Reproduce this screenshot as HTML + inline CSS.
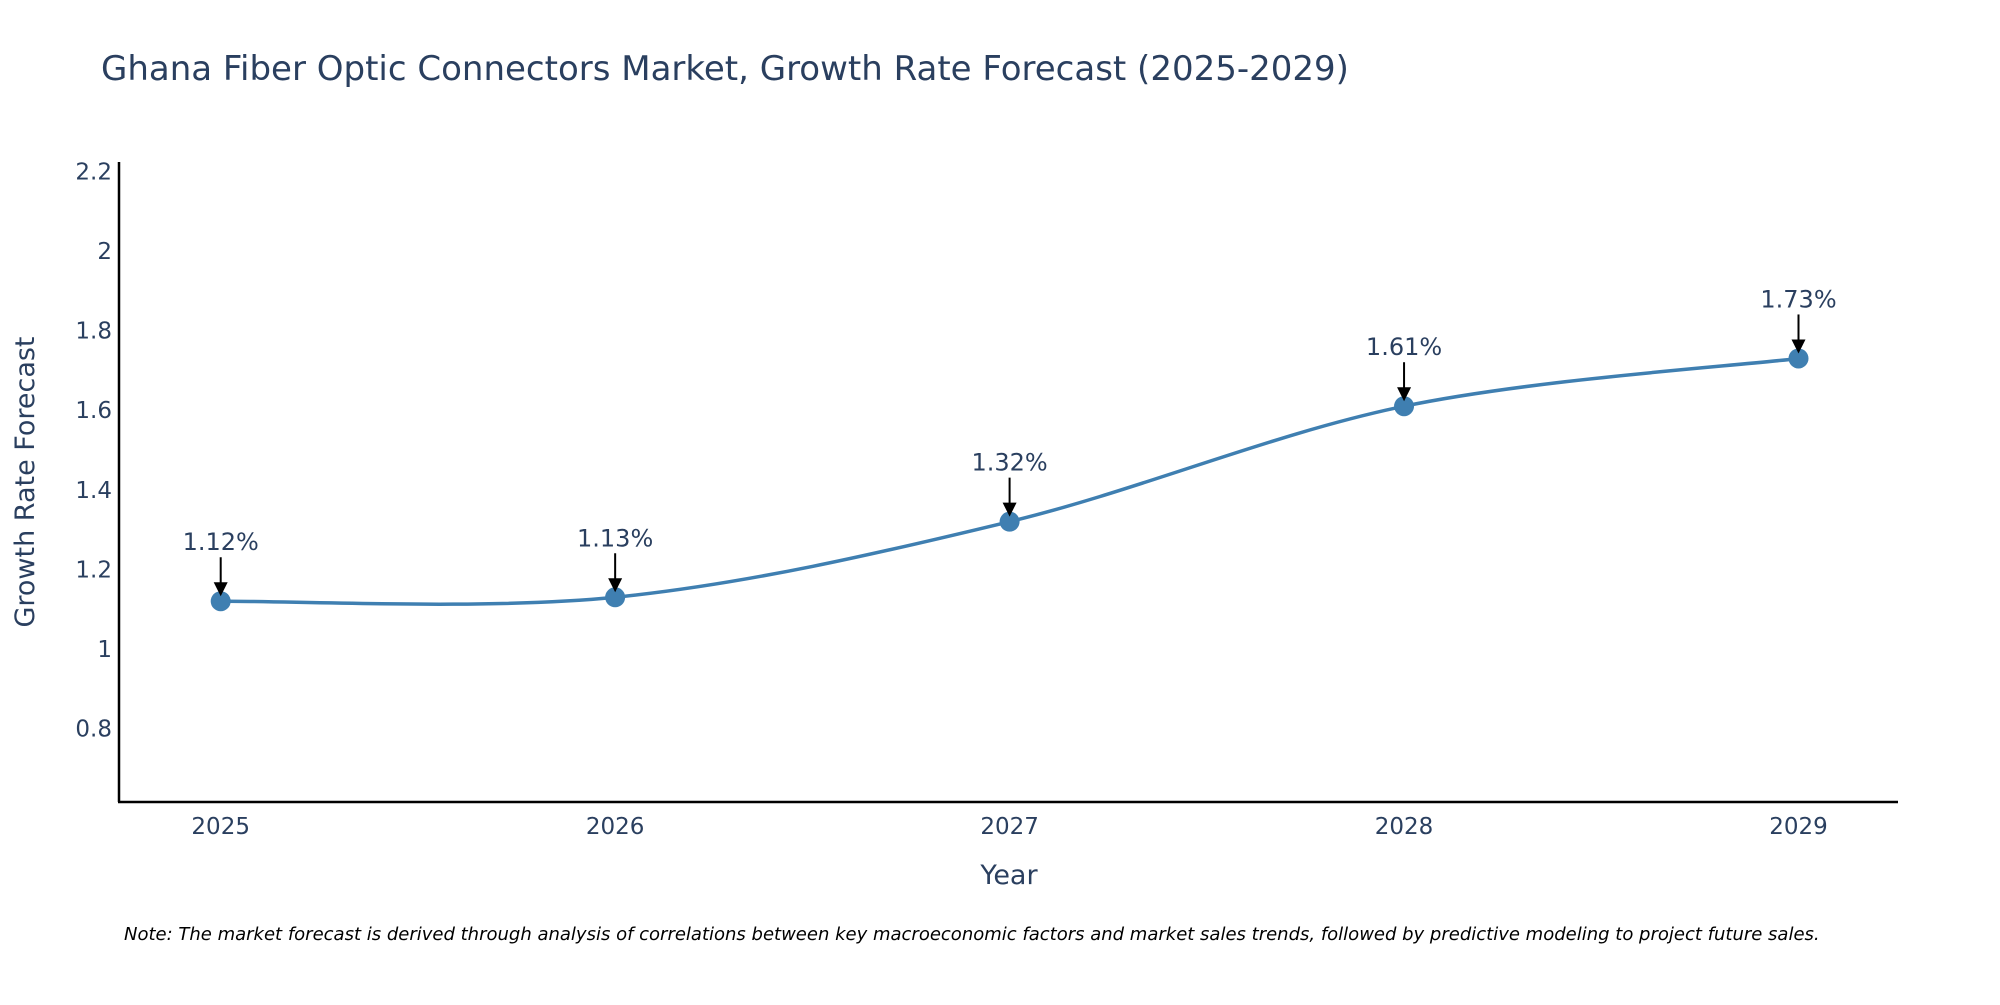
<!DOCTYPE html>
<html><head><meta charset="utf-8"><style>
body{margin:0;background:#fff;}
svg text{font-family:"DejaVu Sans","Liberation Sans",sans-serif;fill:#2a3f5f;}
</style></head><body>
<svg width="2000" height="1000" xmlns="http://www.w3.org/2000/svg">
<text x="101" y="80" font-size="34">Ghana Fiber Optic Connectors Market, Growth Rate Forecast (2025-2029)</text>
<g id="yticks"></g>
<g id="xticks"></g>
<line x1="119" y1="162" x2="119" y2="802" stroke="#000" stroke-width="2.5"/>
<line x1="118" y1="802" x2="1898" y2="802" stroke="#000" stroke-width="2.5"/>
<path id="line" fill="none" stroke="#3f7fb1" stroke-width="3.5"/>
<g id="pts"></g>
<text x="1009" y="884" font-size="27" text-anchor="middle">Year</text>
<text transform="translate(34,482) rotate(-90)" font-size="27" text-anchor="middle">Growth Rate Forecast</text>
<text x="124" y="940" font-size="18" font-style="italic" style="fill:#000">Note: The market forecast is derived through analysis of correlations between key macroeconomic factors and market sales trends, followed by predictive modeling to project future sales.</text>
</svg>
<script>
const years=[2025,2026,2027,2028,2029];
const values=[1.12,1.13,1.32,1.61,1.73];
const labels=["1.12%","1.13%","1.32%","1.61%","1.73%"];
const yTicks=[0.8,1,1.2,1.4,1.6,1.8,2,2.2];
const NS="http://www.w3.org/2000/svg";
function X(v){return 220.7+(v-2025)*394.45;}
function Y(v){return 649-(v-1)*398;}
const yt=document.getElementById('yticks');
yTicks.forEach(t=>{const e=document.createElementNS(NS,'text');
e.setAttribute('x',112);e.setAttribute('y',Y(t)+8);e.setAttribute('font-size',23);e.setAttribute('text-anchor','end');


e.textContent=String(t);yt.appendChild(e);});
const xt=document.getElementById('xticks');
years.forEach(t=>{const e=document.createElementNS(NS,'text');
e.setAttribute('x',X(t));e.setAttribute('y',834);e.setAttribute('font-size',23);e.setAttribute('text-anchor','middle');


e.textContent=String(t);xt.appendChild(e);});
const P=years.map((y,i)=>[X(y),Y(values[i])]);
let d=`M${P[0][0]},${P[0][1]}`;
for(let i=0;i<P.length-1;i++){const p0=P[i-1]||P[i],p1=P[i],p2=P[i+1],p3=P[i+2]||P[i+1];
const c1=[p1[0]+(p2[0]-p0[0])/6,p1[1]+(p2[1]-p0[1])/6],c2=[p2[0]-(p3[0]-p1[0])/6,p2[1]-(p3[1]-p1[1])/6];
d+=` C${c1[0]},${c1[1]} ${c2[0]},${c2[1]} ${p2[0]},${p2[1]}`;}
document.getElementById('line').setAttribute('d',d);
const g=document.getElementById('pts');
P.forEach((p,i)=>{
const c=document.createElementNS(NS,'circle');c.setAttribute('cx',p[0]);c.setAttribute('cy',p[1]);c.setAttribute('r',10);c.setAttribute('fill','#3f7fb1');


g.appendChild(c);
const l=document.createElementNS(NS,'line');l.setAttribute('x1',p[0]);l.setAttribute('x2',p[0]);l.setAttribute('y1',p[1]-44);l.setAttribute('y2',p[1]-18);l.setAttribute('stroke','#000');l.setAttribute('stroke-width',2);


g.appendChild(l);
const h=document.createElementNS(NS,'polygon');h.setAttribute('points',`${p[0]-7},${p[1]-19} ${p[0]+7},${p[1]-19} ${p[0]},${p[1]-5}`);h.setAttribute('fill','#000');


g.appendChild(h);
const t=document.createElementNS(NS,'text');t.setAttribute('x',p[0]);t.setAttribute('y',p[1]-51);t.setAttribute('font-size',24);t.setAttribute('text-anchor','middle');


t.textContent=labels[i];g.appendChild(t);});
</script>
</body></html>
